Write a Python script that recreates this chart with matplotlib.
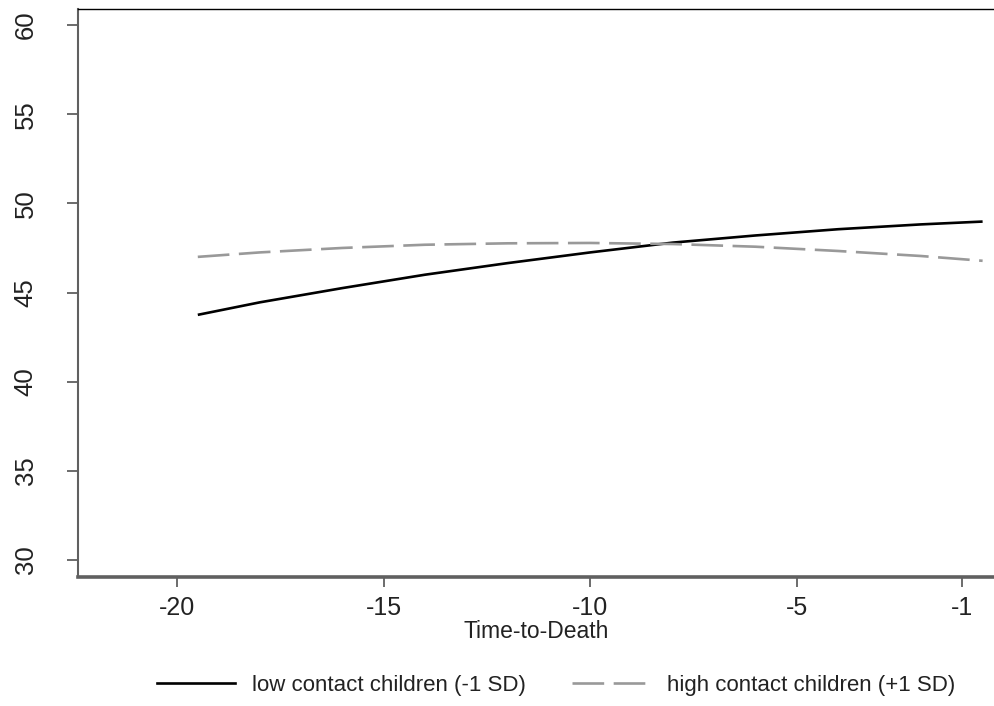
import matplotlib.pyplot as plt
from matplotlib.lines import Line2D

# values
time_to_death = [-19.5, -18, -16, -14, -12, -10, -8, -6, -4, -2, -0.5]
low_contact = [43.75, 44.45, 45.25, 46.0, 46.65, 47.25, 47.8, 48.2, 48.55, 48.82, 48.98]
high_contact = [47.0, 47.25, 47.5, 47.68, 47.76, 47.78, 47.72, 47.57, 47.33, 47.05, 46.78]

x_ticks = [-20, -15, -10, -5, -1]
y_ticks = [30, 35, 40, 45, 50, 55, 60]
labels = ['low contact children (-1 SD)', 'high contact children (+1 SD)']

plt.rcParams['font.family'] = ['Liberation Sans', 'DejaVu Sans']
plt.rcParams['axes.unicode_minus'] = False

fig = plt.figure(figsize=(9.95, 7.06), dpi=100)
ax = fig.add_axes([0.0784, 0.1827, 0.9216, 0.8046])

dash = (0, (12, 3.6))
ax.plot(time_to_death, low_contact, color='black', lw=1.9, solid_capstyle='butt')
ax.plot(time_to_death, high_contact, color='#999999', lw=1.9,
        linestyle=dash, dash_capstyle='butt')

ax.set_xlim(-22.4, -0.2)
ax.set_ylim(29.05, 60.9)
ax.set_xticks(x_ticks)
ax.set_yticks(y_ticks)

ax.spines['right'].set_visible(False)
ax.spines['top'].set_color('black')
ax.spines['top'].set_linewidth(1.0)
ax.spines['left'].set_color('#606060')
ax.spines['left'].set_linewidth(1.5)
ax.spines['bottom'].set_color('#606060')
ax.spines['bottom'].set_linewidth(2.6)

ax.tick_params(axis='y', length=8, width=1.3, color='#606060', pad=21,
               labelsize=18.5, labelrotation=90, labelcolor='#222222')
ax.tick_params(axis='x', length=7.5, width=1.3, color='#606060', pad=6,
               labelsize=18, labelcolor='#222222')
for lbl in ax.get_yticklabels():
    lbl.set_verticalalignment('center')

ax.set_xlabel('Time-to-Death', fontsize=16.5, labelpad=0, color='#222222')

handles = [
    Line2D([], [], color='black', lw=1.9),
    Line2D([], [], color='#999999', lw=1.9, linestyle=dash),
]
fig.legend(handles, labels, loc='center', bbox_to_anchor=(0.559, 0.029),
           ncol=2, frameon=False, handlelength=3.5,
           handletextpad=0.75, columnspacing=2.1, labelcolor='#222222',
           prop={'family': ['Liberation Sans'], 'size': 16})

fig.savefig('out.png', dpi=100)
